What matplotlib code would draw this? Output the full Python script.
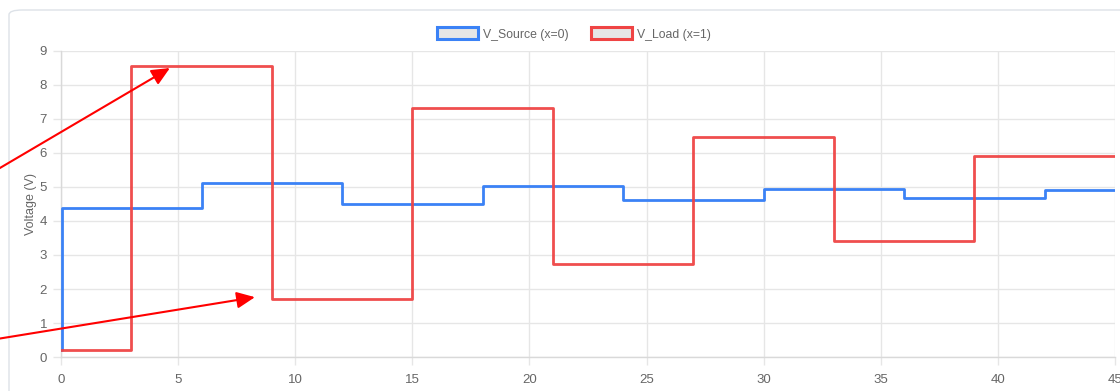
import matplotlib
matplotlib.use("Agg")
import matplotlib.pyplot as plt
from matplotlib.patches import Patch, FancyBboxPatch

plt.rcParams['font.family'] = ['Liberation Sans', 'DejaVu Sans']

# Data
source_t = [0, 0.05, 6, 12, 18, 24, 30, 36, 42, 45]
source_v = [0.2, 4.37, 5.13, 4.50, 5.02, 4.62, 4.95, 4.67, 4.90, 4.90]
load_t = [0, 3, 9, 15, 21, 27, 33, 39, 45]
load_v = [0.2, 8.57, 1.72, 7.32, 2.73, 6.48, 3.42, 5.92, 5.92]
series_labels = ["V_Source (x=0)", "V_Load (x=1)"]
y_label = "Voltage (V)"
x_ticks = [0, 5, 10, 15, 20, 25, 30, 35, 40, 45]
y_ticks = list(range(0, 10))

W, H = 1120, 391
fig = plt.figure(figsize=(W / 100, H / 100), dpi=100)

# card border
card = FancyBboxPatch((9 / W, -0.2), 1.2, (H - 10) / H + 0.2,
                      boxstyle="round,pad=0,rounding_size=0.012",
                      transform=fig.transFigure, facecolor='white',
                      edgecolor='#dde2e8', linewidth=1.0, zorder=0)
fig.add_artist(card)

ax = fig.add_axes([61 / W, 1 - 357 / H, (1115 - 61) / W, (357 - 51) / H])
ax.set_facecolor('none')

blue = '#3b82f6'
red = '#ef4444'
ax.plot(source_t, source_v, drawstyle='steps-post', color=blue, lw=2.0, zorder=3)
ax.plot(load_t, load_v, drawstyle='steps-post', color=red, lw=2.0, zorder=3, alpha=0.95)

ax.set_xlim(0, 45)
ax.set_ylim(0, 9)
ax.set_xticks(x_ticks)
ax.set_yticks(y_ticks)
ax.grid(True, color='#e6e6e6', lw=1.0)
ax.set_axisbelow(True)
for s in ['top', 'right']:
    ax.spines[s].set_visible(False)
for s in ['left', 'bottom']:
    ax.spines[s].set_color('#d9d9d9')
    ax.spines[s].set_linewidth(1.0)
ax.tick_params(axis='both', colors='#e6e6e6', length=6, width=1.0,
               labelcolor='#666666', labelsize=9.5)
ax.tick_params(axis='y', pad=4)
ax.tick_params(axis='x', pad=6)
ax.set_ylabel(y_label, color='#666666', fontsize=9, labelpad=2)

# legend
handles = [Patch(facecolor='#e6e6e6', edgecolor=blue, linewidth=2.2),
           Patch(facecolor='#e6e6e6', edgecolor=red, linewidth=2.2)]
leg = fig.legend(handles, series_labels, loc='center', bbox_to_anchor=(574 / W, 1 - 34 / H),
                 ncol=2, frameon=False, fontsize=8.8, handlelength=3.3, handleheight=1.1,
                 columnspacing=1.9, handletextpad=0.4, labelcolor='#666666')

# annotation arrows
arrow_kw = dict(arrowstyle='-|>,head_length=0.55,head_width=0.25', color='#ff0000',
                lw=1.5, mutation_scale=20, shrinkA=0, shrinkB=0)
ax.annotate('', xy=(4.65, 8.5), xytext=(-3.0, 5.4), xycoords='data',
            arrowprops=arrow_kw, annotation_clip=False)
ax.annotate('', xy=(8.28, 1.76), xytext=(-3.0, 0.5), xycoords='data',
            arrowprops=arrow_kw, annotation_clip=False)

fig.savefig('out.png', dpi=100)
